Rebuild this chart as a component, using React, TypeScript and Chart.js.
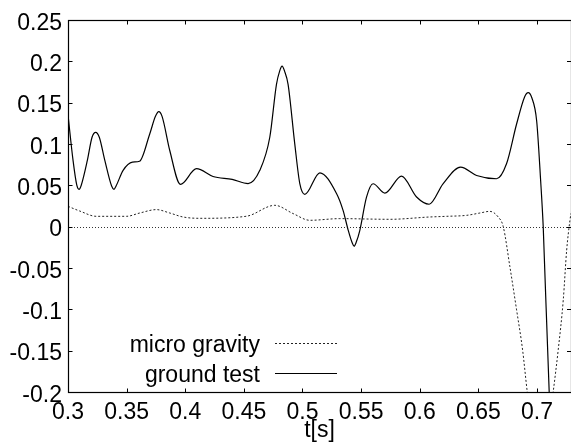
import { useEffect, useRef } from "react";
import { Chart, registerables } from "chart.js";

Chart.register(...registerables);

// ---- data ----
const groundT = [
  0.3, 0.3043, 0.3075, 0.3094, 0.3113, 0.3165, 0.3205, 0.3236, 0.3267, 0.3314,
  0.3372, 0.3392, 0.341, 0.347, 0.355, 0.361, 0.3697, 0.3745, 0.3774, 0.3803,
  0.3868, 0.3959, 0.4096, 0.4237, 0.44, 0.4536, 0.4636, 0.4721, 0.4778, 0.4805,
  0.4826, 0.4847, 0.4877, 0.4934, 0.4977, 0.502, 0.5148, 0.529, 0.5346, 0.539,
  0.5422, 0.544, 0.5458, 0.5489, 0.5546, 0.5602, 0.5702, 0.5845, 0.5973, 0.608,
  0.62, 0.6348, 0.6485, 0.6655, 0.674, 0.6826, 0.6895, 0.6925, 0.6955, 0.6997,
  0.7031, 0.7053, 0.7104, 0.716, 0.729,
];
const groundV = [
  0.135, 0.08, 0.05, 0.045, 0.05, 0.08, 0.108, 0.114, 0.108, 0.08,
  0.049, 0.045, 0.049, 0.068, 0.078, 0.079, 0.112, 0.133, 0.139, 0.133,
  0.092, 0.051, 0.07, 0.0606, 0.057, 0.052, 0.068, 0.108, 0.172, 0.188,
  0.194, 0.188, 0.172, 0.1, 0.052, 0.039, 0.065, 0.04, 0.0196, -0.0045,
  -0.019, -0.0237, -0.019, -0.0045, 0.0357, 0.0518, 0.0405, 0.061, 0.0357, 0.027,
  0.052, 0.0718, 0.0618, 0.0578, 0.0759, 0.124, 0.157, 0.162, 0.156, 0.128,
  0.0558, 0.0, -0.2, -0.33, -0.5,
];
const microT = [
  0.3, 0.31, 0.3242, 0.3498, 0.3612, 0.3754, 0.3868, 0.3981, 0.4124, 0.4522,
  0.4764, 0.492, 0.5062, 0.5318, 0.5745, 0.6086, 0.6229, 0.64, 0.6513, 0.6598,
  0.6669, 0.6712, 0.6769, 0.6826, 0.6877, 0.6917, 0.697, 0.703, 0.709, 0.7138,
  0.7181, 0.7224, 0.7253, 0.7281, 0.729,
];
const microV = [
  0.0245, 0.0188, 0.0124, 0.0124, 0.0164, 0.0205, 0.0164, 0.0116, 0.01, 0.0125,
  0.0257, 0.0157, 0.0076, 0.0096, 0.0088, 0.0116, 0.0124, 0.0136, 0.0164, 0.0184,
  0.0116, 0.0, -0.0487, -0.1008, -0.149, -0.2, -0.255, -0.27, -0.25, -0.2,
  -0.149, -0.0888, -0.0286, 0.0076, 0.016,
];
const xTicks = [0.3, 0.35, 0.4, 0.45, 0.5, 0.55, 0.6, 0.65, 0.7];
const yTicks = [-0.2, -0.15, -0.1, -0.05, 0, 0.05, 0.1, 0.15, 0.2, 0.25];
const xMin = 0.3;
const xMax = 0.729;
const yMin = -0.2;
const yMax = 0.25;
const microLabel = "micro gravity";
const groundLabel = "ground test";
const xTitle = "t[s]";

const FONT = "'Liberation Sans', Arial, Helvetica, sans-serif";
const FSIZE = 23;

const fmt = (v: number) => String(Number(v.toFixed(2)));

const framePlugin = {
  id: "frame",
  beforeDatasetsDraw(chart: any) {
    const { ctx, chartArea } = chart;
    const ys = chart.scales.y;
    const y0 = Math.round(ys.getPixelForValue(0)) + 0.5;
    ctx.save();
    ctx.strokeStyle = "#333";
    ctx.lineWidth = 1;
    ctx.setLineDash([1, 2]);
    ctx.beginPath();
    ctx.moveTo(chartArea.left, y0);
    ctx.lineTo(chartArea.right, y0);
    ctx.stroke();
    ctx.restore();
  },
  afterDatasetsDraw(chart: any) {
    const { ctx, chartArea } = chart;
    const xs = chart.scales.x;
    const ys = chart.scales.y;
    const L = Math.round(chartArea.left) + 0.5;
    const T = Math.round(chartArea.top) + 0.5;
    const R = Math.round(chartArea.right) + 0.5;
    const B = Math.round(chartArea.bottom) + 0.5;
    const tl = 4;
    ctx.save();
    ctx.strokeStyle = "#000";
    ctx.lineWidth = 1.2;
    ctx.setLineDash([]);
    ctx.strokeRect(L, T, R - L, B - T);
    ctx.lineWidth = 1;
    ctx.beginPath();
    xTicks.forEach((v) => {
      const px = Math.round(xs.getPixelForValue(v)) + 0.5;
      ctx.moveTo(px, B);
      ctx.lineTo(px, B - tl);
      ctx.moveTo(px, T);
      ctx.lineTo(px, T + tl);
    });
    yTicks.forEach((v) => {
      const py = Math.round(ys.getPixelForValue(v)) + 0.5;
      ctx.moveTo(L, py);
      ctx.lineTo(L + tl, py);
      ctx.moveTo(chartArea.right, py);
      ctx.lineTo(chartArea.right - tl, py);
    });
    ctx.stroke();

    // in-plot legend (gnuplot style: text right-aligned, sample to the right)
    const textRight = chartArea.left + 192;
    const sx0 = chartArea.left + 207;
    const sx1 = chartArea.left + 269;
    const rows = [chartArea.bottom - 49.5, chartArea.bottom - 19.5];
    ctx.font = `${FSIZE}px ${FONT}`;
    ctx.textAlign = "right";
    ctx.textBaseline = "middle";
    ctx.fillStyle = "#000";
    chart.data.datasets.forEach((ds: any, i: number) => {
      const ly = Math.round(rows[i]) + 0.5;
      ctx.fillText(ds.label, textRight, ly + 2);
      ctx.strokeStyle = ds.borderColor;
      ctx.lineWidth = ds.borderWidth;
      ctx.setLineDash(ds.borderDash || []);
      ctx.beginPath();
      ctx.moveTo(sx0, ly);
      ctx.lineTo(sx1, ly);
      ctx.stroke();
    });
    ctx.restore();
  },
};

export default function App() {
  const ref = useRef<HTMLCanvasElement | null>(null);

  useEffect(() => {
    if (!ref.current) return;
    const chart = new Chart(ref.current, {
      type: "line",
      data: {
        datasets: [
          {
            label: microLabel,
            data: microT.map((t, i) => ({ x: t, y: microV[i] })),
            borderColor: "#222",
            borderWidth: 1,
            borderDash: [2, 2],
            pointRadius: 0,
            cubicInterpolationMode: "monotone",
            fill: false,
          },
          {
            label: groundLabel,
            data: groundT.map((t, i) => ({ x: t, y: groundV[i] })),
            borderColor: "#000",
            borderWidth: 1.2,
            pointRadius: 0,
            cubicInterpolationMode: "monotone",
            fill: false,
          },
        ],
      },
      options: {
        animation: false,
        responsive: false,
        events: [],
        layout: { padding: { top: 19, left: 0, right: 0, bottom: 0 } },
        plugins: {
          legend: { display: false },
          tooltip: { enabled: false },
        },
        scales: {
          x: {
            type: "linear",
            min: xMin,
            max: xMax,
            grid: { display: false, drawTicks: false },
            border: { display: false },
            afterBuildTicks: (s: any) => {
              s.ticks = xTicks.map((v) => ({ value: v }));
            },
            afterFit: (s: any) => {
              s.height = 52;
            },
            ticks: {
              padding: 7,
              maxRotation: 0,
              autoSkip: false,
              color: "#000",
              font: { family: FONT, size: FSIZE },
              callback: (v: any) => fmt(Number(v)),
            },
            title: {
              display: true,
              text: xTitle,
              color: "#000",
              padding: 0,
              font: { family: FONT, size: FSIZE },
            },
          },
          y: {
            type: "linear",
            min: yMin,
            max: yMax,
            grid: { display: false, drawTicks: false },
            border: { display: false },
            afterBuildTicks: (s: any) => {
              s.ticks = yTicks.map((v) => ({ value: v }));
            },
            afterFit: (s: any) => {
              s.width = 68;
            },
            ticks: {
              padding: 6,
              labelOffset: 3.5,
              autoSkip: false,
              color: "#000",
              font: { family: FONT, size: FSIZE },
              callback: (v: any) => fmt(Number(v)),
            },
          },
        },
      },
      plugins: [framePlugin],
    });
    return () => chart.destroy();
  }, []);

  return (
    <div style={{ position: "absolute", left: 0, top: 0, width: 571, height: 444, background: "#fff" }}>
      <canvas ref={ref} width={571} height={444} style={{ display: "block", width: 571, height: 444 }} />
    </div>
  );
}
